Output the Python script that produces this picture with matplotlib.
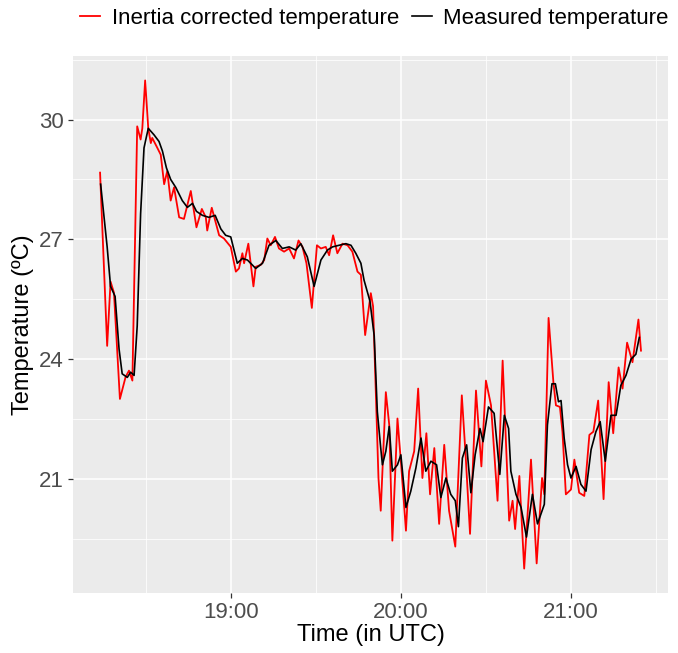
#!/usr/bin/env python3
"""Inertia corrected vs measured temperature, ggplot-like look."""

import numpy as np
import pandas as pd
import matplotlib
matplotlib.use("Agg")
import matplotlib.pyplot as plt
import matplotlib.dates as mdates
from matplotlib.ticker import MultipleLocator

plt.rcParams["font.family"] = ["Liberation Sans", "DejaVu Sans"]

BASE = pd.Timestamp("2000-01-01 18:00")

# minutes after 18:00 UTC, temperature in degC
corr_min = [13.8, 16.3, 17.5, 18.7, 20.8, 22.8, 24.0, 25.2, 26.9, 28.1, 28.7, 29.7,
            30.8, 31.7, 32.2, 34.0, 35.2, 36.4, 37.5, 38.7, 39.9, 41.7, 43.4, 45.8,
            47.8, 49.7, 51.1, 51.6, 53.2, 54.4, 55.8, 57.5, 59.9, 61.7, 62.8, 64.0,
            64.6, 66.1, 67.9, 68.7, 70.5, 71.7, 72.8, 74.0, 75.5, 76.9, 78.7, 80.5,
            82.2, 83.8, 85.2, 86.6, 88.5, 90.3, 91.7, 93.4, 94.6, 96.0, 97.5, 99.3,
            101.1, 102.8, 104.6, 105.8, 107.3, 109.3, 110.1, 111.1, 112.0, 112.8, 114.6, 115.8,
            116.9, 118.7, 119.9, 121.7, 122.8, 124.6, 126.0, 127.5, 128.9, 130.2, 131.7, 133.4,
            135.2, 136.9, 139.1, 141.4, 142.8, 144.3, 146.4, 148.3, 149.9, 151.7, 154.0, 155.8,
            158.1, 159.3, 160.2, 161.7, 163.4, 165.8, 167.8, 169.7, 170.5, 172.0, 173.7, 174.6,
            176.0, 176.9, 178.1, 179.9, 181.1, 182.8, 184.6, 186.4, 187.8, 189.5, 191.4, 193.2,
            194.8, 196.7, 198.1, 199.7, 201.6, 203.7, 204.6]
corr_temp = [28.67, 24.33, 25.94, 25.66, 23.00, 23.55, 23.71, 23.46, 29.83, 29.50, 29.78, 30.98,
             29.78, 29.41, 29.54, 29.29, 29.12, 28.38, 28.71, 27.97, 28.30, 27.55, 27.51, 28.21,
             27.30, 27.76, 27.55, 27.22, 27.79, 27.47, 27.10, 27.02, 26.81, 26.19, 26.27, 26.65,
             26.40, 26.89, 25.82, 26.31, 26.36, 26.48, 27.02, 26.85, 27.06, 26.77, 26.69, 26.77,
             26.52, 26.97, 26.81, 26.40, 25.28, 26.85, 26.77, 26.81, 26.60, 27.10, 26.65, 26.89,
             26.85, 26.69, 26.19, 26.11, 24.60, 25.65, 25.32, 23.09, 21.02, 20.20, 23.17, 22.35,
             19.45, 22.51, 21.44, 19.70, 21.19, 21.69, 23.26, 21.02, 22.14, 20.61, 21.77, 19.87,
             21.85, 20.20, 19.30, 23.09, 21.52, 19.62, 23.21, 21.31, 23.46, 22.84, 20.45, 23.96,
             19.95, 20.45, 19.74, 21.07, 18.75, 21.48, 18.88, 21.02, 20.61, 25.03, 23.42, 22.84,
             22.80, 22.18, 20.61, 20.73, 21.48, 20.65, 20.57, 22.10, 22.18, 22.96, 20.49, 23.42,
             22.14, 23.79, 23.26, 24.41, 23.92, 24.99, 24.21]

meas_min = [14.0, 16.3, 17.5, 19.1, 20.5, 21.6, 23.4, 24.6, 25.8, 26.9, 28.1, 29.3,
            30.8, 32.8, 34.6, 35.8, 37.2, 38.7, 40.5, 42.8, 44.6, 46.4, 47.8, 49.9,
            52.2, 54.4, 56.4, 58.1, 59.9, 62.2, 64.0, 65.8, 68.7, 71.1, 73.4, 75.8,
            78.1, 80.5, 82.8, 84.6, 86.9, 89.3, 91.7, 94.0, 95.8, 98.1, 100.5, 102.3,
            104.0, 105.8, 106.9, 109.0, 110.5, 111.6, 112.8, 113.4, 114.6, 115.8, 116.9, 118.7,
            119.9, 121.7, 123.4, 125.2, 127.0, 128.7, 130.5, 132.5, 134.0, 135.8, 137.5, 139.1,
            140.2, 141.6, 143.1, 144.6, 146.1, 147.8, 148.9, 150.8, 152.8, 154.8, 156.4, 157.9,
            158.7, 160.5, 162.3, 164.2, 166.3, 168.1, 170.5, 171.6, 173.2, 174.4, 175.5, 176.4,
            177.5, 178.7, 179.9, 181.7, 183.4, 185.2, 187.0, 188.7, 190.2, 192.0, 194.0, 195.8,
            197.5, 199.3, 201.1, 202.8, 204.0]
meas_temp = [28.38, 26.81, 25.82, 25.57, 24.25, 23.63, 23.54, 23.67, 23.59, 24.83, 27.64, 29.29,
             29.78, 29.62, 29.45, 29.21, 28.79, 28.50, 28.30, 27.97, 27.80, 27.90, 27.70, 27.60,
             27.55, 27.60, 27.26, 27.10, 27.06, 26.40, 26.52, 26.48, 26.27, 26.40, 26.85, 26.97,
             26.77, 26.81, 26.73, 26.89, 26.56, 25.82, 26.48, 26.73, 26.81, 26.85, 26.89, 26.85,
             26.65, 26.40, 25.98, 25.45, 24.58, 22.68, 21.77, 21.35, 21.69, 22.31, 21.19, 21.35,
             21.60, 20.28, 20.69, 21.27, 22.02, 21.19, 21.44, 21.35, 20.53, 21.02, 20.61, 20.45,
             19.80, 21.52, 21.85, 20.65, 21.60, 22.26, 21.93, 22.80, 22.64, 21.11, 22.59, 22.26,
             21.19, 20.61, 20.28, 19.54, 20.61, 19.87, 20.36, 22.35, 23.38, 23.38, 22.93, 22.96,
             22.02, 21.35, 21.02, 21.31, 20.86, 20.69, 21.73, 22.18, 22.43, 21.44, 22.59, 22.59,
             23.34, 23.59, 24.00, 24.12, 24.54]

SERIES = ["Inertia corrected temperature", "Measured temperature"]
COLORS = ["#FF0000", "#000000"]


def main():
    t_corr = BASE + pd.to_timedelta(corr_min, unit="min")
    t_meas = BASE + pd.to_timedelta(meas_min, unit="min")

    fig = plt.figure(figsize=(6.78, 6.53), dpi=100)
    ax = fig.add_axes([0.1077, 0.0919, 0.8776, 0.8223])
    ax.set_facecolor("#EBEBEB")

    ax.plot(t_corr, corr_temp, color=COLORS[0], lw=1.3, label=SERIES[0])
    ax.plot(t_meas, meas_temp, color=COLORS[1], lw=1.2, label=SERIES[1])

    # ggplot-style 5% expansion
    x_all = np.concatenate([mdates.date2num(t_corr), mdates.date2num(t_meas)])
    y_all = np.concatenate([corr_temp, meas_temp])
    xs = x_all.max() - x_all.min()
    ys = y_all.max() - y_all.min()
    ax.set_xlim(x_all.min() - 0.05 * xs, x_all.max() + 0.05 * xs)
    ax.set_ylim(y_all.min() - 0.05 * ys, y_all.max() + 0.05 * ys)

    ax.xaxis.set_major_locator(mdates.HourLocator())
    ax.xaxis.set_minor_locator(mdates.MinuteLocator(byminute=[30]))
    ax.xaxis.set_major_formatter(mdates.DateFormatter("%H:%M"))
    ax.yaxis.set_major_locator(MultipleLocator(3))
    ax.yaxis.set_minor_locator(MultipleLocator(1.5))

    ax.grid(which="major", color="white", lw=1.1)
    ax.grid(which="minor", color="white", lw=0.55)
    ax.set_axisbelow(True)
    for s in ax.spines.values():
        s.set_visible(False)

    ax.tick_params(which="major", length=3.5, width=0.9, color="#333333",
                   labelsize=16, labelcolor="#4D4D4D", pad=3)
    ax.tick_params(which="minor", length=0)
    ax.set_xlabel("Time (in UTC)", fontsize=17, color="black", labelpad=1)
    ax.set_ylabel("Temperature (ºC)", fontsize=17, color="black", labelpad=4)

    fig.legend(loc="center", bbox_to_anchor=(0.5524, 0.972), ncol=2, frameon=False,
               fontsize=16, handlelength=0.9, handletextpad=0.5, columnspacing=0.6)

    fig.savefig("out.png", dpi=100)


if __name__ == "__main__":
    main()
